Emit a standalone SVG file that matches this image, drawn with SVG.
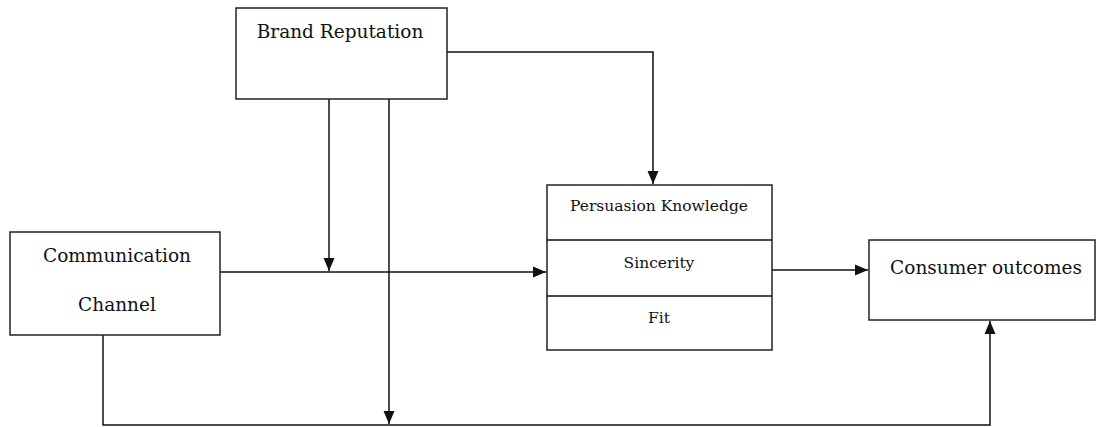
<svg xmlns="http://www.w3.org/2000/svg" width="1097" height="427" viewBox="0 0 1097 427">
<style>
.box{fill:#fff;stroke:#222;stroke-width:1.5}
.ln{fill:none;stroke:#111;stroke-width:1.5}
text{font-family:"DejaVu Serif","Liberation Serif",serif;fill:#111;text-anchor:middle}
.big{font-size:18.5px}
.sm{font-size:15.5px}
</style>
<defs>
<marker id="ah" markerWidth="13" markerHeight="13" viewBox="0 0 13 13" refX="13" refY="6.5" orient="auto" markerUnits="userSpaceOnUse">
<path d="M0,1 L13,6.5 L0,12 Z" fill="#111"/>
</marker>
</defs>
<rect width="1097" height="427" fill="#fff"/>
<g id="connectors">
<line class="ln" x1="220" y1="272" x2="546" y2="272" marker-end="url(#ah)"/>
<line class="ln" x1="329" y1="99" x2="329" y2="271" marker-end="url(#ah)"/>
<line class="ln" x1="389" y1="99" x2="389" y2="424" marker-end="url(#ah)"/>
<polyline class="ln" points="447,52 653,52 653,184" marker-end="url(#ah)"/>
<polyline class="ln" points="103,335 103,425 990,425 990,321" marker-end="url(#ah)"/>
<line class="ln" x1="772" y1="270" x2="868" y2="270" marker-end="url(#ah)"/>
</g>
<g id="brand-reputation">
<rect class="box" x="236" y="8" width="211" height="91"/>
<text class="big" x="340" y="38">Brand Reputation</text>
</g>
<g id="communication-channel">
<rect class="box" x="10" y="232" width="210" height="103"/>
<text class="big" x="117" y="262">Communication</text>
<text class="big" x="117" y="311">Channel</text>
</g>
<g id="persuasion">
<rect class="box" x="547" y="185" width="225" height="165"/>
<line class="ln" x1="547" y1="240" x2="772" y2="240"/>
<line class="ln" x1="547" y1="296" x2="772" y2="296"/>
<text class="sm" x="659" y="211">Persuasion Knowledge</text>
<text class="sm" x="659" y="268">Sincerity</text>
<text class="sm" x="659" y="323">Fit</text>
</g>
<g id="consumer-outcomes">
<rect class="box" x="869" y="240" width="226" height="80"/>
<text class="big" x="986" y="274">Consumer outcomes</text>
</g>
</svg>
